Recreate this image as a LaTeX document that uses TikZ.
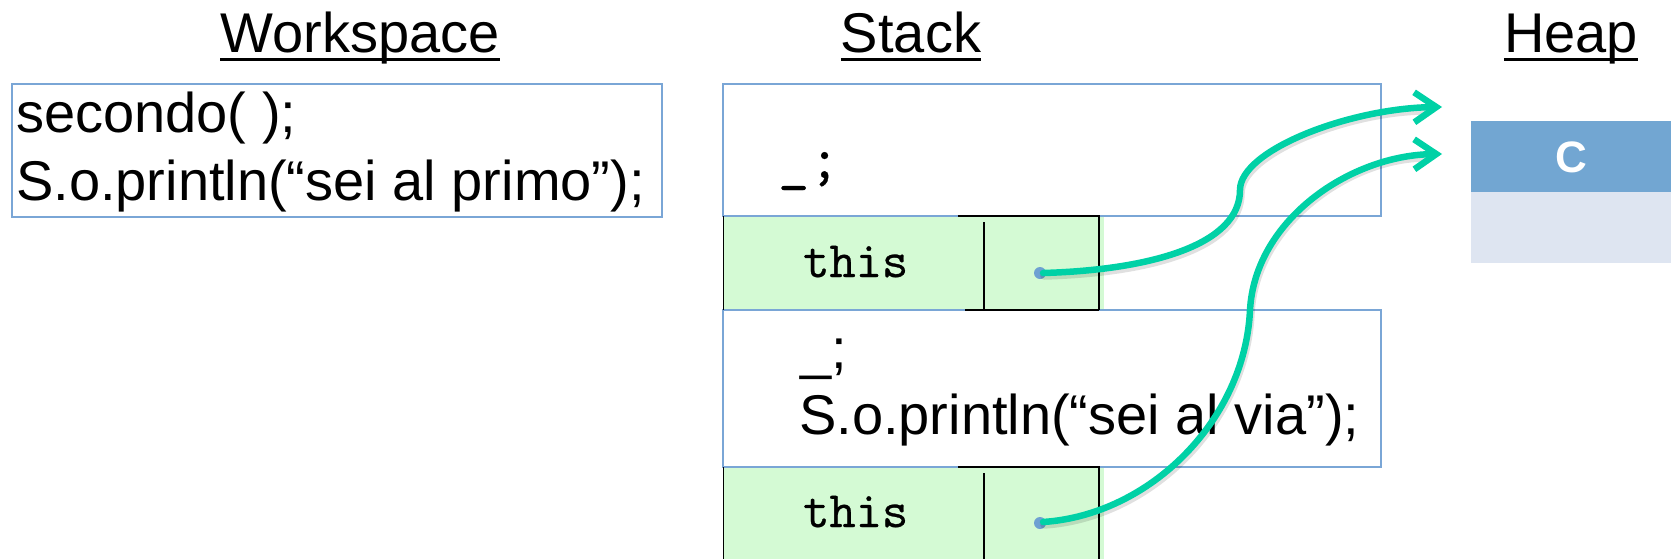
\documentclass[tikz,border=0pt]{standalone}
\usepackage{fontspec}
\setmainfont{Liberation Sans}
\newfontfamily\codefont[FakeBold=0.6]{Latin Modern Mono}
\usetikzlibrary{arrows.meta}
\definecolor{boxblue}{RGB}{122,166,214}
\definecolor{rowgreen}{RGB}{212,250,212}
\definecolor{teal}{RGB}{0,209,166}
\definecolor{heapdark}{RGB}{114,166,210}
\definecolor{heaplight}{RGB}{222,229,241}
\definecolor{dotblue}{RGB}{110,160,210}
\begin{document}
\begin{tikzpicture}[x=1pt,y=-1pt,
  big/.style={font=\fontsize{56}{68}\selectfont, inner sep=0pt},
  mono/.style={font=\fontsize{51}{55}\selectfont\codefont, inner sep=0pt},
  monobig/.style={font=\fontsize{60}{64}\selectfont\codefont, inner sep=0pt},
  uline/.style={line width=2.6pt},
  bluebox/.style={draw=boxblue, line width=1.6pt, inner sep=0pt},
  blk/.style={draw=black, line width=2.4pt},
  greenrow/.style={fill=rowgreen},
  ptr/.style={draw=teal, line width=6.5pt, line cap=round, -{Straight Barb[length=22pt,width=30pt]}},
  shadow/.style={draw=black, opacity=0.12, line width=7.5pt, line cap=round},
  dot/.style={fill=dotblue}
]
\useasboundingbox (0,0) rectangle (1671,558);
\clip (0,0) rectangle (1671,558);

% titles
\node[big, anchor=base] (tws) at (360,52) {Workspace};
\draw[uline] ([yshift=-7.6pt]tws.base west) -- ([yshift=-7.6pt]tws.base east);
\node[big, anchor=base] (tst) at (911,52) {Stack};
\draw[uline] ([yshift=-7.6pt]tst.base west) -- ([yshift=-7.6pt]tst.base east);
\node[big, anchor=base] (thp) at (1571,52) {Heap};
\draw[uline] ([yshift=-7.6pt]thp.base west) -- ([yshift=-7.6pt]thp.base east);

% workspace
\node[bluebox, minimum width=650pt, minimum height=133pt] (ws) at (337,150.5) {};
\node[big, anchor=base west] (ws1) at (16,132) {secondo( );};
\node[big, anchor=base west] (ws2) at (16,200) {S.o.println(“sei al primo”);};

% stack green rows
\fill[greenrow] (723,216) rectangle (1104,310);
\fill[greenrow] (723,467) rectangle (1104,580);

% stack frames
\node[bluebox, minimum width=658pt, minimum height=132pt] (f1) at (1052,150) {};
\node[bluebox, minimum width=658pt, minimum height=157pt] (f2) at (1052,388.5) {};
\node[monobig, anchor=base west] (f1t) at (778,178) {\_;};
\node[big, anchor=base west] (f2a) at (800,368) {\_;};
\node[big, anchor=base west] (f2b) at (799,434) {S.o.println(“sei al via”);};

% row 1
\draw[black, line width=1pt] (723,216) -- (723,310);
\draw[blk] (958,216) -- (1099,216) -- (1099,310);
\draw[blk] (984,222) -- (984,310);
\draw[blk] (965,310) -- (1099,310);
\node[mono, anchor=base west] (r1) at (803,277) {this};
% row 2
\draw[black, line width=1pt] (723,467) -- (723,560);
\draw[blk] (958,467) -- (1099,467) -- (1099,560);
\draw[blk] (984,473) -- (984,560);
\node[mono, anchor=base west] (r2) at (803,527) {this};

% heap
\node[fill=heapdark, minimum width=200pt, minimum height=72pt, inner sep=0pt,
      text=white, font=\fontsize{44}{48}\selectfont\bfseries] (hc) at (1571,157) {C};
\node[fill=heaplight, minimum width=200pt, minimum height=71pt, inner sep=0pt] (hl) at (1571,227.5) {};

% pointers
\coordinate (d1) at (1043,273);
\coordinate (d2) at (1043,522);
\coordinate (h1) at (1442,107);
\coordinate (h2) at (1442,154);
\fill[dot] (1040,273) circle (6pt);
\fill[dot] (1040,523) circle (6pt);
\draw[shadow] ([shift={(1,3)}]d1) .. controls (1151,273) and (1241,248) .. (1241,193) .. controls (1241,153) and (1351,111) .. (1425,111);
\draw[shadow] ([shift={(1,3)}]d2) .. controls (1151,518) and (1246,423) .. (1251,313) .. controls (1256,223) and (1351,158) .. (1425,158);
\draw[ptr] (d1) .. controls (1150,270) and (1240,245) .. (1240,190) .. controls (1240,150) and (1350,108) .. (h1);
\draw[ptr] (d2) .. controls (1150,515) and (1245,420) .. (1250,310) .. controls (1255,220) and (1350,155) .. (h2);
\end{tikzpicture}
\end{document}
